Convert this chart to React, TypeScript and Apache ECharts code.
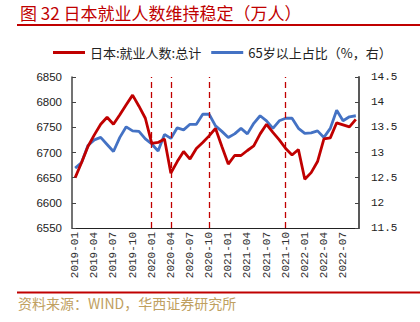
import React, { useEffect, useRef } from "react";
import * as echarts from "echarts";

const months = [
  "2019-01","2019-02","2019-03","2019-04","2019-05","2019-06","2019-07","2019-08","2019-09","2019-10","2019-11","2019-12",
  "2020-01","2020-02","2020-03","2020-04","2020-05","2020-06","2020-07","2020-08","2020-09","2020-10","2020-11","2020-12",
  "2021-01","2021-02","2021-03","2021-04","2021-05","2021-06","2021-07","2021-08","2021-09","2021-10","2021-11","2021-12",
  "2022-01","2022-02","2022-03","2022-04","2022-05","2022-06","2022-07","2022-08","2022-09",
];

const employed = [
  6650, 6680, 6712, 6735, 6756, 6770, 6756, 6775, 6795, 6814,
  6792, 6768, 6718, 6720, 6727, 6659, 6682, 6702, 6687, 6708,
  6720, 6733, 6748, 6712, 6677, 6694, 6694, 6704, 6713, 6737,
  6756, 6740, 6725, 6708, 6695, 6706, 6647, 6660, 6682, 6727,
  6729, 6759, 6755, 6751, 6766,
];

const over65Share = [
  12.69, 12.8, 13.14, 13.25, 13.3, 13.16, 13.02, 13.3, 13.51, 13.43,
  13.42, 13.27, 13.17, 13.03, 13.36, 13.28, 13.49, 13.45, 13.56, 13.56,
  13.76, 13.76, 13.53, 13.42, 13.3, 13.37, 13.48, 13.37, 13.58, 13.73,
  13.63, 13.48, 13.63, 13.68, 13.68, 13.48, 13.38, 13.39, 13.43, 13.3,
  13.48, 13.84, 13.63, 13.71, 13.73,
];

const eventMonths = ["2020-01", "2020-04", "2020-10", "2021-10"];

const seriesNames = ["日本:就业人数:总计", "65岁以上占比（%，右）"];
const titleText = "图 32 日本就业人数维持稳定（万人）";
const sourceText = "资料来源：WIND，华西证券研究所";

const RED = "#C00000";
const BLUE = "#4472C4";
const CJK = "'Noto Sans CJK SC', sans-serif";

export default function App() {
  const ref = useRef<HTMLDivElement>(null);
  useEffect(() => {
    if (!ref.current) return;
    const chart = echarts.init(ref.current, null, { renderer: "svg" });
    chart.setOption({
      animation: false,
      backgroundColor: "#ffffff",
      graphic: [
        {
          type: "text",
          left: 20,
          top: 4,
          style: { text: titleText, fill: RED, font: `17px ${CJK}` },
        },
        {
          type: "line",
          shape: { x1: 17, y1: 25, x2: 420, y2: 25 },
          style: { stroke: RED, lineWidth: 2 },
        },
        {
          type: "line",
          shape: { x1: 17, y1: 292.5, x2: 420, y2: 292.5 },
          style: { stroke: RED, lineWidth: 2 },
        },
        {
          type: "text",
          left: 18,
          top: 296,
          style: { text: sourceText, fill: "#C0A060", font: `14px ${CJK}` },
        },
      ],
      legend: {
        left: 48,
        top: 41,
        icon: "rect",
        itemWidth: 32,
        itemHeight: 3,
        itemGap: 10,
        textStyle: { fontFamily: CJK, fontSize: 13, color: "#222" },
        data: seriesNames,
      },
      grid: { left: 72, right: 61, top: 77, bottom: 94, containLabel: false },
      xAxis: {
        type: "category",
        data: months,
        boundaryGap: true,
        axisLine: { lineStyle: { color: "#222", width: 1 } },
        axisTick: { inside: true, length: 5, interval: 2, lineStyle: { color: "#222" } },
        axisLabel: {
          interval: 2,
          rotate: 90,
          margin: 4,
          fontFamily: "'Liberation Mono', monospace",
          fontSize: 11,
          color: "#333",
        },
        splitLine: { show: false },
      },
      yAxis: [
        {
          type: "value",
          min: 6550,
          max: 6850,
          interval: 50,
          axisLine: { show: true, lineStyle: { color: "#444", width: 1.5 } },
          axisTick: { show: true, inside: true, length: 4, lineStyle: { color: "#444" } },
          axisLabel: {
            margin: 10,
            fontFamily: "'Liberation Sans', Arial, sans-serif",
            fontSize: 11.5,
            color: "#222",
            formatter: (v: number) => String(v),
          },
          splitLine: { show: false },
        },
        {
          type: "value",
          min: 11.5,
          max: 14.5,
          interval: 0.5,
          position: "right",
          axisLine: { show: true, lineStyle: { color: "#595959", width: 2 } },
          axisTick: { show: true, inside: true, length: 4, lineStyle: { color: "#444" } },
          axisLabel: { margin: 12, fontFamily: "'Liberation Mono', monospace", fontSize: 11, color: "#222" },
          splitLine: { show: false },
        },
      ],
      series: [
        {
          name: seriesNames[0],
          type: "line",
          data: employed,
          yAxisIndex: 0,
          symbol: "none",
          lineStyle: { color: RED, width: 2.8 },
          itemStyle: { color: RED },
          z: 3,
          markLine: {
            silent: true,
            symbol: "none",
            label: { show: false },
            lineStyle: { color: RED, type: [6, 4], width: 1.3 },
            data: eventMonths.map((m) => ({ xAxis: m })),
          },
        },
        {
          name: seriesNames[1],
          type: "line",
          data: over65Share,
          yAxisIndex: 1,
          symbol: "none",
          lineStyle: { color: BLUE, width: 2.8 },
          itemStyle: { color: BLUE },
          z: 2,
        },
      ],
    });
    return () => chart.dispose();
  }, []);
  return (
    <div
      ref={ref}
      style={{ position: "fixed", left: 0, top: 0, width: 420, height: 322 }}
    />
  );
}
